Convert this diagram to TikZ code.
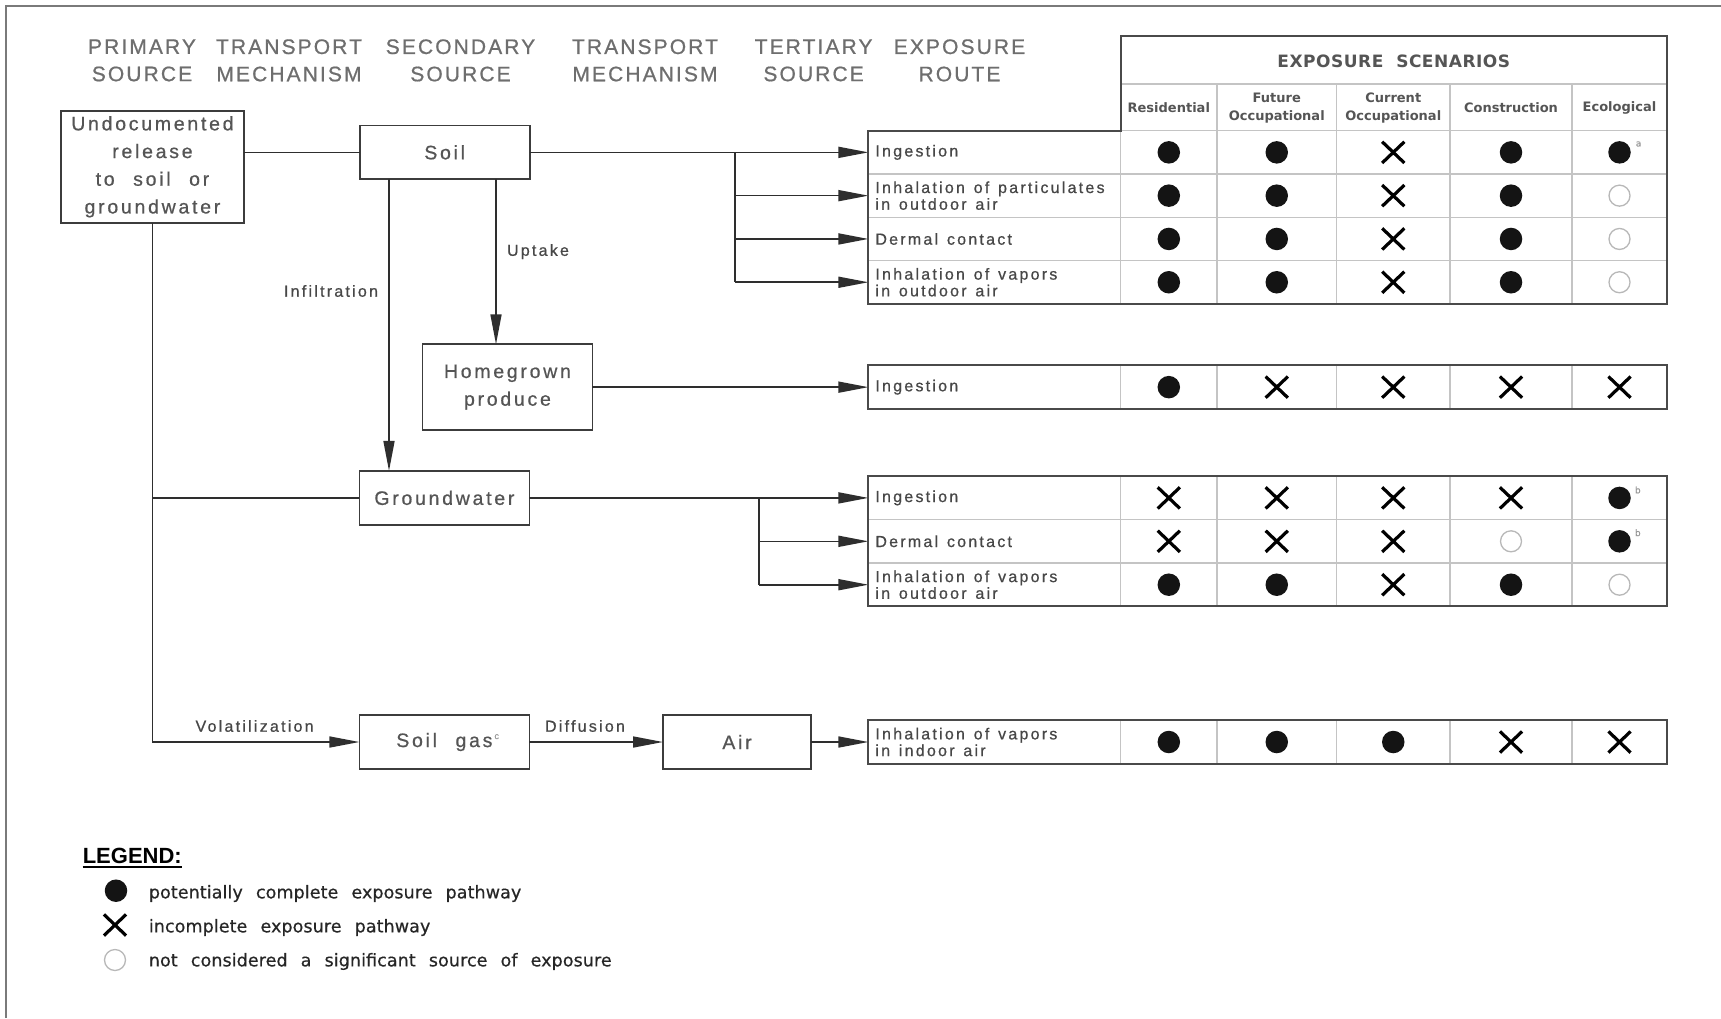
\documentclass[tikz,border=0pt]{standalone}
\usepackage{fontspec}
\setmainfont{Liberation Sans}
\newfontfamily\hdrfont[LetterSpace=10,FakeBold=0.7]{Liberation Sans}
\newfontfamily\boxfont[LetterSpace=14,FakeBold=0.7]{Liberation Sans}
\newfontfamily\rowfont[LetterSpace=14,FakeBold=0.7]{Liberation Sans}
\newfontfamily\colfont{DejaVu Sans}
\newfontfamily\scenfont[LetterSpace=3,WordSpace=2]{DejaVu Sans}
\newfontfamily\legfont[LetterSpace=0.5,FakeBold=0.5]{DejaVu Sans}
\newcommand\wsp{\hspace{0.55em}}
\newcommand\bsp{\hspace{0.95em}}
\newcommand\lsp{\hspace{0.75em}}
\usetikzlibrary{arrows.meta,shapes.misc}
\definecolor{hdrc}{HTML}{6E6E6E}
\definecolor{boxt}{HTML}{555555}
\definecolor{rowt}{HTML}{474747}
\definecolor{colt}{HTML}{555555}
\definecolor{linec}{HTML}{2E2E2E}
\definecolor{boxc}{HTML}{3C3C3C}
\definecolor{outc}{HTML}{4A4A4A}
\definecolor{gridc}{HTML}{C4C4C4}
\definecolor{framec}{HTML}{7A7A7A}
\definecolor{legc}{HTML}{262626}
\begin{document}
\begin{tikzpicture}[x=1pt,y=-1pt,
  hdr/.style={font=\hdrfont\fontsize{21}{27.3}\selectfont, text=hdrc, align=center, inner sep=0},
  box/.style={draw=boxc, line width=1.8, fill=white, inner sep=0, outer sep=0,
    font=\boxfont\fontsize{19.5}{27.7}\selectfont, text=boxt, align=center},
  conn/.style={draw=linec, line width=1.6},
  arr/.style={-{Triangle[length=30pt,width=11pt]}},
  lbl/.style={font=\rowfont\fontsize{16}{18}\selectfont, text=rowt, inner sep=0},
  rowlab/.style={anchor=west, minimum height=43.3, text width=238, inner xsep=7, inner ysep=0,
    outer sep=0, align=left, font=\rowfont\fontsize{16}{16.7}\selectfont, text=rowt},
  colh/.style={font=\colfont\bfseries\fontsize{13}{17.7}\selectfont, text=colt, align=center, inner sep=0},
  tin/.style={draw=gridc, line width=1.3},
  tout/.style={draw=outc, line width=2},
  symD/.style={circle, fill=black!92, draw=none, minimum size=22.5, inner sep=0},
  symO/.style={circle, draw=black!28, line width=1.3, minimum size=21, inner sep=0},
  symX/.style={cross out, draw=black, line width=3.2, minimum width=19, minimum height=18, inner sep=0},
  legt/.style={anchor=west, inner sep=0, font=\legfont\fontsize{17.5}{20}\selectfont, text=legc},
  sup/.style={font=\legfont\fontsize{9}{9}\selectfont, text=black!40, inner sep=0}
]
\useasboundingbox (0,0) rectangle (1721,1018);
\fill[white] (0,0) rectangle (1721,1018);
\draw[framec, line width=2] (5.8,1018) -- (5.8,5.7) -- (1721,5.7);

% column titles
\node[hdr] (h1) at (142,60.4) {PRIMARY\\SOURCE};
\node[hdr] (h2) at (289,60.4) {TRANSPORT\\MECHANISM};
\node[hdr] (h3) at (460.5,60.4) {SECONDARY\\SOURCE};
\node[hdr] (h4) at (645,60.4) {TRANSPORT\\MECHANISM};
\node[hdr] (h5) at (813.6,60.4) {TERTIARY\\SOURCE};
\node[hdr] (h6) at (959.5,60.4) {EXPOSURE\\ROUTE};

% source boxes
\node[box, minimum width=182.3, minimum height=111.7] (undoc) at (152.45,166.85) {Undocumented\\release\\to\bsp soil\bsp or\\groundwater};
\node[box, minimum width=170, minimum height=53.6] (soil) at (444.7,152.35) {Soil};
\node[box, minimum width=170, minimum height=85.7] (home) at (507.45,387.15) {Homegrown\\produce};
\node[box, minimum width=170, minimum height=54] (gw) at (444.4,497.9) {Groundwater};
\node[box, minimum width=170, minimum height=54.3] (sgas) at (444.4,742) {Soil\bsp gas\rlap{\hspace{2pt}\raisebox{8pt}{\fontsize{9}{9}\selectfont\color{black!40}c}}};
\node[box, minimum width=148, minimum height=54.3] (air) at (737,742) {Air};

% exposure route cells
\node[rowlab] (rA1) at (868.4,152.35) {Ingestion};
\node[rowlab] (rA2) at (868.4,195.65) {Inhalation\wsp of\wsp particulates\\in\wsp outdoor\wsp air};
\node[rowlab] (rA3) at (868.4,238.95) {Dermal\wsp contact};
\node[rowlab] (rA4) at (868.4,282.25) {Inhalation\wsp of\wsp vapors\\in\wsp outdoor\wsp air};
\node[rowlab] (rB) at (868.4,387.15) {Ingestion};
\node[rowlab] (rC1) at (868.4,497.9) {Ingestion};
\node[rowlab] (rC2) at (868.4,541.3) {Dermal\wsp contact};
\node[rowlab] (rC3) at (868.4,584.7) {Inhalation\wsp of\wsp vapors\\in\wsp outdoor\wsp air};
\node[rowlab] (rD) at (868.4,742) {Inhalation\wsp of\wsp vapors\\in\wsp indoor\wsp air};

% connectors
\draw[conn] (undoc.east |- soil.west) -- (soil.west);
\draw[conn,arr] (undoc.south) |- (sgas.west);
\draw[conn] (undoc.south |- gw.west) -- (gw.west);
\draw[conn,arr] (soil.east) -- (rA1.west);
\coordinate (jA) at (735,152.35);
\draw[conn] (jA) -- (jA |- rA4.west);
\draw[conn,arr] (jA |- rA2.west) -- (rA2.west);
\draw[conn,arr] (jA |- rA3.west) -- (rA3.west);
\draw[conn,arr] (jA |- rA4.west) -- (rA4.west);
\draw[conn,arr] ([xshift=51.3]soil.south) -- ([xshift=51.3]soil.south |- home.north);
\draw[conn,arr] ([xshift=-55.7]soil.south) -- ([xshift=-55.7]soil.south |- gw.north);
\draw[conn,arr] (home.east) -- (rB.west);
\draw[conn,arr] (gw.east) -- (rC1.west);
\coordinate (jC) at (759,497.9);
\draw[conn] (jC) -- (jC |- rC3.west);
\draw[conn,arr] (jC |- rC2.west) -- (rC2.west);
\draw[conn,arr] (jC |- rC3.west) -- (rC3.west);
\draw[conn,arr] (sgas.east) -- (air.west);
\draw[conn,arr] (air.east) -- (rD.west);

% connector labels
\node[lbl] (lup) at (538,251.7) {Uptake};
\node[lbl] (linf) at (331,291) {Infiltration};
\node[lbl] (lvol) at (254.6,726) {Volatilization};
\node[lbl] (ldif) at (585,726) {Diffusion};

% table A
\draw[tin] (1120.6,84) -- (1667,84);
\draw[tin] (1120.6,130.7) -- (1667,130.7);
\foreach \yy in {174,217.3,260.6} \draw[tin] (868.4,\yy) -- (1667,\yy);
\draw[tin] (1120.6,130.7) -- (1120.6,303.9);
\foreach \xx in {1217,1336.5,1450,1572} \draw[tin] (\xx,84) -- (\xx,303.9);
\draw[tout] (868.4,130.7) -- (1120.6,130.7) -- (1120.6,35.7) -- (1667,35.7) -- (1667,303.9) -- (868.4,303.9) -- cycle;
% table B
\foreach \xx in {1120.6,1217,1336.5,1450,1572} \draw[tin] (\xx,365) -- (\xx,409.3);
\draw[tout] (868.4,365) rectangle (1667,409.3);
% table C
\foreach \xx in {1120.6,1217,1336.5,1450,1572} \draw[tin] (\xx,476.2) -- (\xx,606.4);
\foreach \yy in {519.6,563} \draw[tin] (868.4,\yy) -- (1667,\yy);
\draw[tout] (868.4,476.2) rectangle (1667,606.4);
% table D
\foreach \xx in {1120.6,1217,1336.5,1450,1572} \draw[tin] (\xx,720) -- (\xx,764);
\draw[tout] (868.4,720) rectangle (1667,764);

% scenario headers
\node[font=\scenfont\bfseries\fontsize{17}{20}\selectfont, text=colt, inner sep=0] (scen) at (1393.8,61) {EXPOSURE SCENARIOS};
\node[colh] (cRes) at (1168.8,108) {Residential};
\node[colh] (cFut) at (1276.75,108) {Future\\Occupational};
\node[colh] (cCur) at (1393.25,108) {Current\\Occupational};
\node[colh] (cCon) at (1511,108) {Construction};
\node[colh] (cEco) at (1619.5,108) {Ecological};

% symbols
\foreach \yy/\row [count=\r] in {152.35/{D,D,X,D,D}, 195.65/{D,D,X,D,O}, 238.95/{D,D,X,D,O},
  282.25/{D,D,X,D,O}, 387.15/{D,X,X,X,X}, 497.9/{X,X,X,X,D}, 541.3/{X,X,X,O,D},
  584.7/{D,D,X,D,O}, 742/{D,D,D,X,X}} {
  \foreach \s [count=\c] in \row {
    \pgfmathsetmacro\xx{{1168.8,1276.75,1393.25,1511,1619.5}[\c-1]}
    \node[sym\s] (s-\r-\c) at (\xx,\yy) {};
  }
}
\node[sup] (supa) at (1638.6,144) {a};
\node[sup] (supb1) at (1637.8,490) {b};
\node[sup] (supb2) at (1637.8,532.7) {b};

% legend
\node[font=\bfseries\fontsize{22}{24}\selectfont, text=black, inner sep=0, anchor=base west] (leg) at (82.6,863) {LEGEND:};
\draw[black, line width=2.4] ([yshift=-4]leg.base west) -- ([yshift=-4]leg.base east);
\node[symD] (lg1) at (116,890.7) {};
\node[symX] (lg2) at (115,925) {};
\node[symO] (lg3) at (115,960) {};
\node[legt] (lt1) at (148.7,893.5) {potentially\lsp complete\lsp exposure\lsp pathway};
\node[legt] (lt2) at (148.7,927.5) {incomplete\lsp exposure\lsp pathway};
\node[legt] (lt3) at (148.7,961.5) {not\lsp considered\lsp a\lsp significant\lsp source\lsp of\lsp exposure};
\end{tikzpicture}
\end{document}
